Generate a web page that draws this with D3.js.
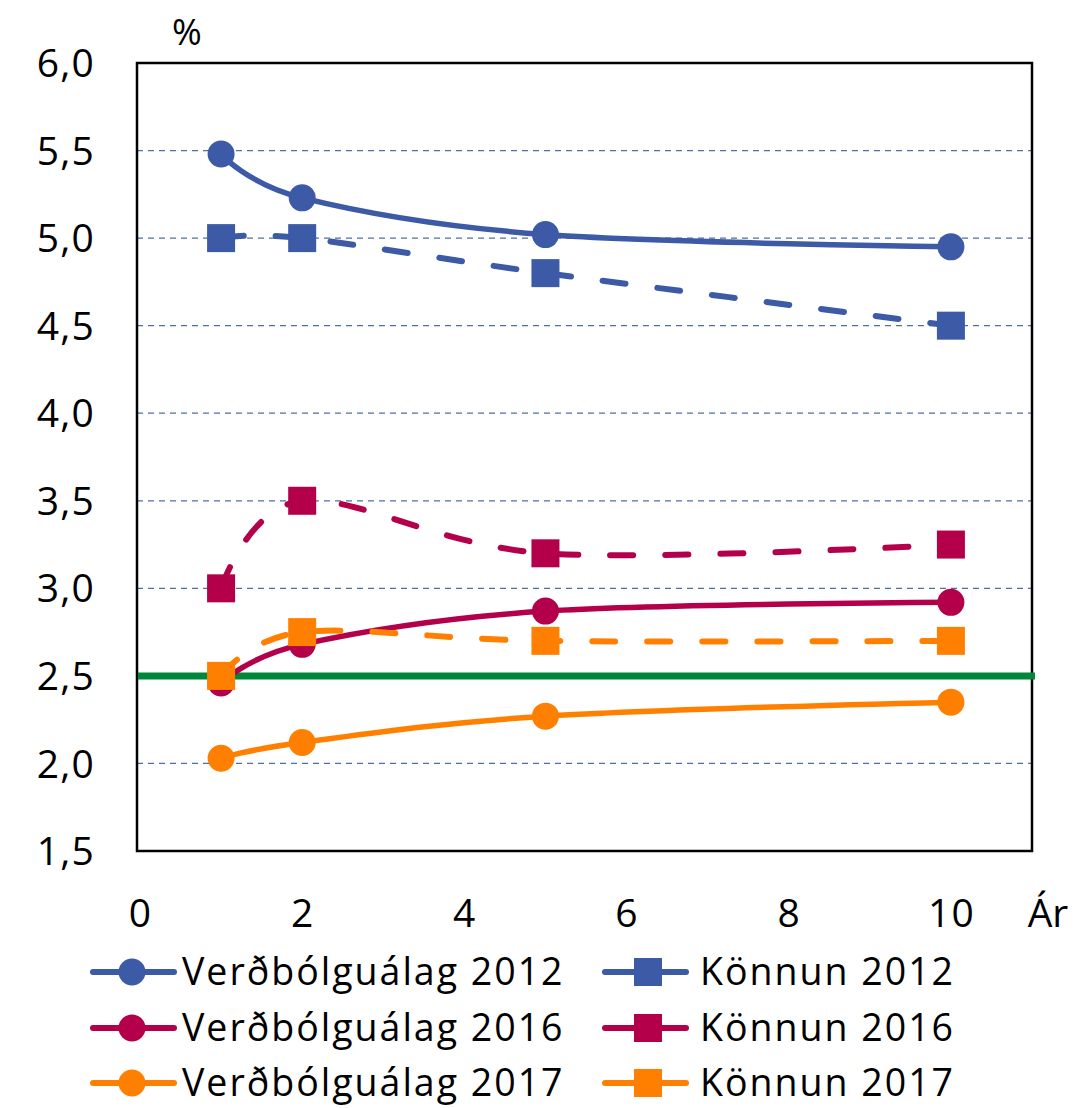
<!DOCTYPE html>
<html><head><meta charset="utf-8">
<script src="https://cdn.jsdelivr.net/npm/d3@7"></script>
<style>body{margin:0;background:#fff}</style>
</head><body>
<svg id="c" width="1074" height="1108"></svg>
<script>
const years = [1, 2, 5, 10];
const verd2012 = [5.48, 5.23, 5.02, 4.95];
const konn2012 = [5.0, 5.0, 4.8, 4.5];
const verd2016 = [2.46, 2.68, 2.87, 2.92];
const konn2016 = [3.0, 3.5, 3.2, 3.25];
const verd2017 = [2.03, 2.12, 2.27, 2.35];
const konn2017 = [2.5, 2.75, 2.7, 2.7];
const target = 2.5;
const yTicks = [1.5, 2.0, 2.5, 3.0, 3.5, 4.0, 4.5, 5.0, 5.5, 6.0];
const xTicks = [0, 2, 4, 6, 8, 10];
const seriesNames = ["Verðbólguálag 2012","Könnun 2012","Verðbólguálag 2016","Könnun 2016","Verðbólguálag 2017","Könnun 2017"];

const colors = {b:"#3D5AA7", r:"#B4004A", o:"#FF8000"};
const series = [
  {name:seriesNames[0], vals:verd2012, color:colors.b, marker:"circle", dash:false},
  {name:seriesNames[1], vals:konn2012, color:colors.b, marker:"square", dash:true},
  {name:seriesNames[2], vals:verd2016, color:colors.r, marker:"circle", dash:false},
  {name:seriesNames[3], vals:konn2016, color:colors.r, marker:"square", dash:true},
  {name:seriesNames[4], vals:verd2017, color:colors.o, marker:"circle", dash:false},
  {name:seriesNames[5], vals:konn2017, color:colors.o, marker:"square", dash:true}
];

const svg = d3.select("#c");
const L=137, R=1032, T=63, B=851;
const x = d3.scaleLinear().domain([0,11]).range([140,R]);
const y = d3.scaleLinear().domain([1.5,6.0]).range([B,T]);
const font = "'Open Sans', 'Noto Sans', sans-serif";
const fs = 39, ls = 1.2;

// gridlines
svg.append("g").selectAll("line").data(yTicks.filter(v=>v>1.5 && v<6.0 && v!==target)).join("line")
  .attr("x1",L).attr("x2",R).attr("y1",d=>y(d)).attr("y2",d=>y(d))
  .attr("stroke","#4F6FA6").attr("stroke-width",1.3).attr("stroke-dasharray","6,5");

// axes
const yAxis = d3.axisLeft(y).tickValues(yTicks).tickSize(0).tickPadding(42)
  .tickFormat(d=>d3.format(".1f")(d).replace(".",","));
const gy = svg.append("g").attr("transform",`translate(${L},0)`).call(yAxis);
gy.select(".domain").remove();
gy.selectAll("text").attr("font-family",font).attr("font-size",fs).attr("letter-spacing",ls).attr("fill","#000").attr("dy","0.35em");

const xAxis = d3.axisBottom(x).tickValues(xTicks).tickSize(0).tickPadding(0);
const gx = svg.append("g").attr("transform",`translate(0,${B})`).call(xAxis);
gx.select(".domain").remove();
gx.selectAll("text").attr("font-family",font).attr("font-size",fs).attr("letter-spacing",ls).attr("fill","#000")
  .attr("dy",null).attr("y",76);

svg.append("text").attr("x",1048).attr("y",927).attr("text-anchor","middle")
  .attr("font-family",font).attr("font-size",fs).text("Ár");
svg.append("text").attr("x",187).attr("y",45).attr("text-anchor","middle")
  .attr("font-family",font).attr("font-size",36).text("%");

// plot border
svg.append("rect").attr("x",L).attr("y",T).attr("width",R-L).attr("height",B-T)
  .attr("fill","none").attr("stroke","#000").attr("stroke-width",2.5);

// target line
svg.append("line").attr("x1",L+1).attr("x2",R+3).attr("y1",y(target)).attr("y2",y(target))
  .attr("stroke","#00873A").attr("stroke-width",7);

const line = d3.line().x(d=>x(d[0])).y(d=>y(d[1])).curve(d3.curveCardinal.tension(0));

const order = [1,0,3,2,5,4];
order.forEach(i=>{
  const s = series[i];
  const pts = years.map((yr,j)=>[yr,s.vals[j]]);
  svg.append("path").attr("d",line(pts)).attr("fill","none").attr("stroke",s.color)
    .attr("stroke-width",s.dash?6:5.5).attr("stroke-linecap","round")
    .attr("stroke-dasharray",s.dash?"23,32":null);
});
order.forEach(i=>{
  const s = series[i];
  const pts = years.map((yr,j)=>[yr,s.vals[j]]);
  if(s.marker==="circle"){
    svg.append("g").selectAll("circle").data(pts).join("circle")
      .attr("cx",d=>x(d[0])).attr("cy",d=>y(d[1])).attr("r",13.5).attr("fill",s.color);
  } else {
    svg.append("g").selectAll("rect").data(pts).join("rect")
      .attr("x",d=>x(d[0])-14).attr("y",d=>y(d[1])-14).attr("width",28).attr("height",28).attr("fill",s.color);
  }
});

// legend
const rowsY = [972, 1028, 1083];
series.forEach((s,i)=>{
  const col = i%2, row = Math.floor(i/2);
  const lx = col===0 ? 90 : 602;
  const cy = rowsY[row];
  const g = svg.append("g");
  g.append("line").attr("x1",lx+3).attr("x2",lx+84).attr("y1",cy).attr("y2",cy)
    .attr("stroke",s.color).attr("stroke-width",6).attr("stroke-linecap","round");
  if(s.marker==="circle") g.append("circle").attr("cx",lx+42).attr("cy",cy).attr("r",13.5).attr("fill",s.color);
  else g.append("rect").attr("x",lx+32).attr("y",cy-14).attr("width",28).attr("height",28).attr("fill",s.color);
  g.append("text").attr("x",col===0 ? 182 : 700).attr("y",cy).attr("dy","0.35em")
    .attr("font-family",font).attr("font-size",37.5).attr("letter-spacing",2).attr("fill","#000").text(s.name);
});
</script>
</body></html>
